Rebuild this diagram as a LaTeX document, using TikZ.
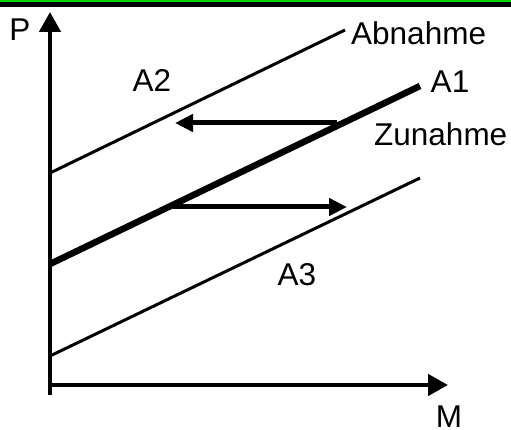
\documentclass[tikz,border=0pt]{standalone}
\usepackage{fontspec}
\setmainfont{Liberation Sans}
\usetikzlibrary{arrows.meta}
\begin{document}
\begin{tikzpicture}[
    x=1pt, y=-1pt,
    axis/.style={line width=4.5pt, -{Triangle[length=20pt, width=21pt]}},
    shift arrow/.style={line width=5pt, -{Triangle[length=18pt, width=17pt]}},
    curve/.style={line width=3pt},
    main curve/.style={line width=6.5pt},
    label/.style={font=\fontsize{31.5}{36}\selectfont, inner sep=0pt},
]
\useasboundingbox (0,0) rectangle (511,430);

% Top border (green line over black bar)
\fill[green!85!black] (0,0) rectangle (511,2);
\fill[black] (0,2) rectangle (511,7);

% Axes
\coordinate (origin) at (50,385);
\coordinate (ptop) at (50,12);
\coordinate (mright) at (448,385);
\draw[axis] ([yshift=-10pt]origin) -- (ptop);
\draw[axis] ([xshift=-2pt]origin) -- (mright);
\node[label] (p) at (20,30) {P};
\node[label] (m) at (449,417) {M};

% Curves
\coordinate (a2start) at (50,173);
\coordinate (a2end) at (345,30);
\coordinate (a1start) at (50,264);
\coordinate (a1end) at (420,86);
\coordinate (a3start) at (50,356);
\coordinate (a3end) at (420,178);
\draw[curve] (a2start) -- (a2end);
\draw[main curve] (a1start) -- (a1end);
\draw[curve] (a3start) -- (a3end);

% Labels
\node[label, anchor=west] (abnahme) at (351,33) {Abnahme};
\node[label] (a1) at (450,82) {A1};
\node[label, anchor=west] (zunahme) at (374,134) {Zunahme};
\node[label] (a2) at (152,81) {A2};
\node[label] (a3) at (297,275) {A3};

% Shift arrows
\coordinate (upfrom) at (337,123);
\coordinate (upto) at (175,123);
\coordinate (lowfrom) at (173,207);
\coordinate (lowto) at (347,207);
\draw[shift arrow] (upfrom) -- (upto);
\draw[shift arrow] (lowfrom) -- (lowto);

\end{tikzpicture}
\end{document}
